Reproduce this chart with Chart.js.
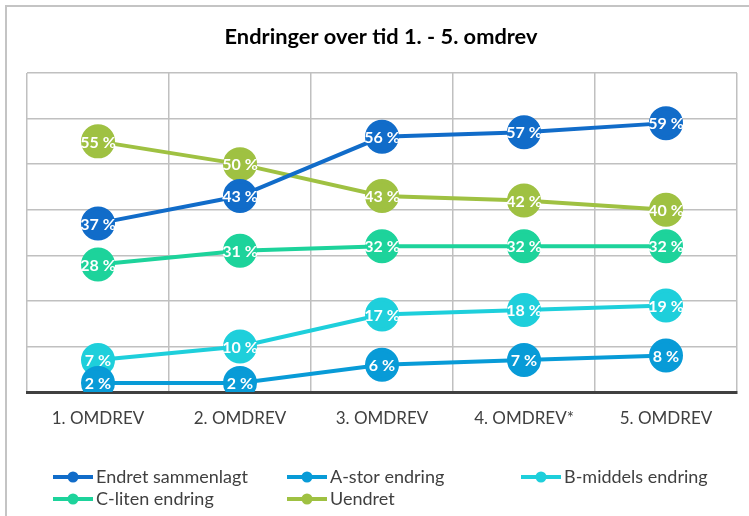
<!DOCTYPE html>
<html>
<head>
<meta charset="utf-8">
<script src="https://cdn.jsdelivr.net/npm/chart.js@4/dist/chart.umd.min.js"></script>
<style>
html,body{margin:0;padding:0;background:#fff;}
#wrap{width:749px;height:516px;position:relative;}
</style>
</head>
<body>
<div id="wrap"><canvas id="c" width="749" height="516"></canvas></div>
<script>
const titleText = 'Endringer over tid 1. - 5. omdrev';
const categories = ['1. OMDREV', '2. OMDREV', '3. OMDREV', '4. OMDREV*', '5. OMDREV'];
const seriesNames = ['Endret sammenlagt', 'A-stor endring', 'B-middels endring', 'C-liten endring', 'Uendret'];
const endretSammenlagt = [37, 43, 56, 57, 59];
const aStorEndring = [2, 2, 6, 7, 8];
const bMiddelsEndring = [7, 10, 17, 18, 19];
const cLitenEndring = [28, 31, 32, 32, 32];
const uendret = [55, 50, 43, 42, 40];
const seriesColors = ['#116cc9', '#089bd7', '#1ecfdb', '#1dd39b', '#9fc142'];
const yTicks = [0, 10, 20, 30, 40, 50, 60, 70];

const seriesValues = [endretSammenlagt, aStorEndring, bMiddelsEndring, cLitenEndring, uendret];
const FONT = 'Lato, "Open Sans", sans-serif';

const datasets = seriesValues.map((vals, i) => ({
  label: seriesNames[i],
  data: vals,
  borderColor: seriesColors[i],
  backgroundColor: seriesColors[i],
  pointBackgroundColor: seriesColors[i],
  pointBorderColor: seriesColors[i],
  pointRadius: 15,
  pointHoverRadius: 15,
  borderWidth: 4,
  tension: 0,
  fill: false
}));

const decor = {
  id: 'decor',
  beforeDraw(chart) {
    const ctx = chart.ctx;
    ctx.save();
    ctx.strokeStyle = '#c4c4c4';
    ctx.lineWidth = 2;
    ctx.beginPath();
    ctx.moveTo(6, 516);
    ctx.lineTo(6, 6);
    ctx.lineTo(749, 6);
    ctx.stroke();
    ctx.fillStyle = '#000';
    ctx.font = 'bold 21.8px ' + FONT;
    ctx.textAlign = 'center';
    ctx.textBaseline = 'middle';
    ctx.fillText(titleText, 381, 37);
    ctx.restore();
  },
  afterDatasetsDraw(chart) {
    const ctx = chart.ctx;
    ctx.save();
    ctx.fillStyle = '#fff';
    ctx.font = 'bold 16px ' + FONT;
    ctx.textAlign = 'center';
    ctx.textBaseline = 'middle';
    chart.data.datasets.forEach((ds, di) => {
      const meta = chart.getDatasetMeta(di);
      meta.data.forEach((pt, j) => {
        ctx.fillText(ds.data[j] + ' %', pt.x, pt.y + 1);
      });
    });
    ctx.restore();
  },
  afterDraw(chart) {
    const ctx = chart.ctx;
    ctx.save();
    const cols = [53, 287, 521];
    const rows = [477, 499];
    ctx.font = '18px ' + FONT;
    ctx.textBaseline = 'middle';
    ctx.textAlign = 'left';
    seriesNames.forEach((name, i) => {
      const x = cols[i % 3];
      const y = rows[Math.floor(i / 3)];
      ctx.strokeStyle = seriesColors[i];
      ctx.lineWidth = 4;
      ctx.beginPath();
      ctx.moveTo(x, y);
      ctx.lineTo(x + 40, y);
      ctx.stroke();
      ctx.fillStyle = seriesColors[i];
      ctx.beginPath();
      ctx.arc(x + 20, y, 5.5, 0, Math.PI * 2);
      ctx.fill();
      ctx.fillStyle = '#404040';
      ctx.fillText(name, x + 43, y);
    });
    ctx.restore();
  }
};

new Chart(document.getElementById('c'), {
  type: 'line',
  data: { labels: categories, datasets },
  options: {
    responsive: false,
    animation: false,
    layout: { autoPadding: false, padding: { left: 27, right: 12, top: 73, bottom: 0 } },
    plugins: { legend: { display: false }, title: { display: false }, tooltip: { enabled: false } },
    scales: {
      x: {
        offset: true,
        grid: { offset: true, color: '#c0c0c0', lineWidth: 1.5, drawTicks: false },
        border: { display: true, color: '#404040', width: 3 },
        ticks: { color: '#404040', font: { family: FONT, size: 17 }, padding: 16, maxRotation: 0 },
        afterFit(s) { s.height = 124; s.paddingLeft = 0; s.paddingRight = 0; }
      },
      y: {
        min: 0, max: 70,
        afterBuildTicks(s) { s.ticks = yTicks.map(v => ({ value: v })); },
        grid: { color: '#c0c0c0', lineWidth: 1.5, drawTicks: false },
        border: { display: false },
        ticks: { display: false },
        afterFit(s) { s.width = 0; }
      }
    }
  },
  plugins: [decor]
});
</script>
</body>
</html>
